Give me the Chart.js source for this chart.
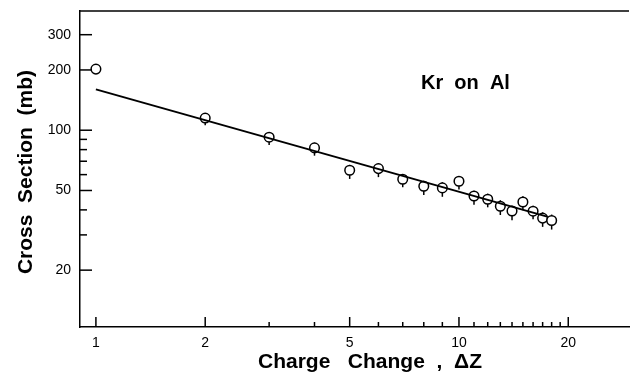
<!DOCTYPE html>
<html><head><meta charset="utf-8">
<script src="https://cdn.jsdelivr.net/npm/chart.js@4"></script>
<style>html,body{margin:0;padding:0;background:#fff;}canvas{display:block;}</style>
</head><body>
<canvas id="c" width="631" height="379"></canvas>
<script>
// ---- data ----
const chargeChange = [1,2,3,4,5,6,7,8,9,10,11,12,13,14,15,16,17,18];
const crossSection = [202,115,92.3,81.6,63.1,64.3,56.9,52.5,51.5,55.6,46.9,45.2,41.7,39.5,43.8,39.4,36.4,35.4];
const errUp   = [0,6,5,5,4,4,3.5,3.5,3.5,3.5,3,3,3,2.5,3,2.5,2.5,2.5];
const errDown = [0,9,8,7,6,6,5,5,5,5,4.5,4,4,4,4,3.5,3.5,3.5];
const fitX = [1, 17.5];
const fitY = [160, 37];
const xMajorTicks = [1,2,5,10,20];
const xMinorTicks = [3,4,6,7,8,9,11,12,13,14,15,16,17,18,19];
const yMajorTicks = [20,50,100,200,300];
const yMinorTicks = [30,40,60,70,80,90];
const xRange = [0.904, 29.4];
const yRange = [10.4, 394];
const annotationText = 'Kr  on  Al';
const annotationAt = [7.86, 160];
const xTitle = 'Charge   Change  ,  \u0394Z';
const yTitle = 'Cross  Section  (mb)';

const FONT = '"Liberation Sans", Arial, Helvetica, sans-serif';

const decor = {
  id: 'decor',
  beforeDatasetsDraw(chart) {
    const {ctx, scales: {x, y}} = chart;
    ctx.save();
    ctx.strokeStyle = '#000';
    ctx.lineWidth = 1.5;
    chargeChange.forEach((c, i) => {
      const px = x.getPixelForValue(c);
      const t = y.getPixelForValue(crossSection[i] + errUp[i]);
      const b = y.getPixelForValue(crossSection[i] - errDown[i]);
      ctx.beginPath(); ctx.moveTo(px, t); ctx.lineTo(px, b); ctx.stroke();
    });
    ctx.restore();
  },
  afterDraw(chart) {
    const {ctx, chartArea: a, scales: {x, y}} = chart;
    ctx.save();
    ctx.strokeStyle = '#000';
    ctx.lineWidth = 1.5;
    ctx.beginPath(); ctx.moveTo(a.left, a.top); ctx.lineTo(a.right, a.top); ctx.stroke();
    x.ticks.forEach(t => {
      const p = x.getPixelForValue(t.value);
      const len = xMajorTicks.includes(t.value) ? 10 : 5;
      ctx.beginPath(); ctx.moveTo(p, a.bottom); ctx.lineTo(p, a.bottom - len); ctx.stroke();
    });
    y.ticks.forEach(t => {
      const p = y.getPixelForValue(t.value);
      const len = yMajorTicks.includes(t.value) ? 12 : 7;
      ctx.beginPath(); ctx.moveTo(a.left, p); ctx.lineTo(a.left + len, p); ctx.stroke();
    });
    ctx.fillStyle = '#000';
    ctx.textBaseline = 'alphabetic';
    ctx.textAlign = 'left';
    ctx.font = 'bold 20px ' + FONT;
    ctx.fillText(annotationText, x.getPixelForValue(annotationAt[0]), y.getPixelForValue(annotationAt[1]));
    ctx.font = 'bold 21px ' + FONT;
    ctx.fillText(xTitle, 258, a.bottom + 41);
    ctx.translate(32, (a.top + a.bottom) / 2 + 3);
    ctx.rotate(-Math.PI / 2);
    ctx.textAlign = 'center';
    ctx.fillText(yTitle, 0, 0);
    ctx.restore();
  }
};

const noPad = s => { s.paddingTop = 0; s.paddingBottom = 0; s.paddingLeft = 0; s.paddingRight = 0; };

new Chart(document.getElementById('c'), {
  data: {
    datasets: [
      {
        type: 'line',
        data: fitX.map((v, i) => ({x: v, y: fitY[i]})),
        borderColor: '#000',
        borderWidth: 2,
        pointRadius: 0,
        fill: false
      },
      {
        type: 'scatter',
        data: chargeChange.map((v, i) => ({x: v, y: crossSection[i]})),
        pointStyle: 'circle',
        pointRadius: 4.8,
        borderWidth: 1.5,
        borderColor: '#000',
        backgroundColor: '#fff'
      }
    ]
  },
  options: {
    responsive: false,
    animation: false,
    devicePixelRatio: 1,
    layout: {autoPadding: false, padding: {left: 0, top: 11, right: 2, bottom: 0}},
    plugins: {legend: {display: false}, tooltip: {enabled: false}, title: {display: false}},
    scales: {
      x: {
        type: 'logarithmic',
        position: 'bottom',
        min: xRange[0], max: xRange[1],
        grid: {display: false, drawTicks: false},
        border: {display: true, color: '#000', width: 1.5},
        afterBuildTicks: s => { s.ticks = xMajorTicks.concat(xMinorTicks).sort((a, b) => a - b).map(v => ({value: v})); },
        afterFit: s => { s.height = 52; noPad(s); },
        ticks: {
          autoSkip: false, maxRotation: 0, padding: 8, color: '#000',
          font: {family: FONT, size: 14},
          callback: v => xMajorTicks.includes(v) ? String(v) : ''
        }
      },
      y: {
        type: 'logarithmic',
        position: 'left',
        min: yRange[0], max: yRange[1],
        grid: {display: false, drawTicks: false},
        border: {display: true, color: '#000', width: 1.5},
        afterBuildTicks: s => { s.ticks = yMajorTicks.concat(yMinorTicks).sort((a, b) => a - b).map(v => ({value: v})); },
        afterFit: s => { s.width = 80; noPad(s); },
        ticks: {
          autoSkip: false, padding: 9, color: '#000',
          font: {family: FONT, size: 14},
          callback: v => yMajorTicks.includes(v) ? String(v) : ''
        }
      }
    }
  },
  plugins: [decor]
});
</script>
</body></html>
